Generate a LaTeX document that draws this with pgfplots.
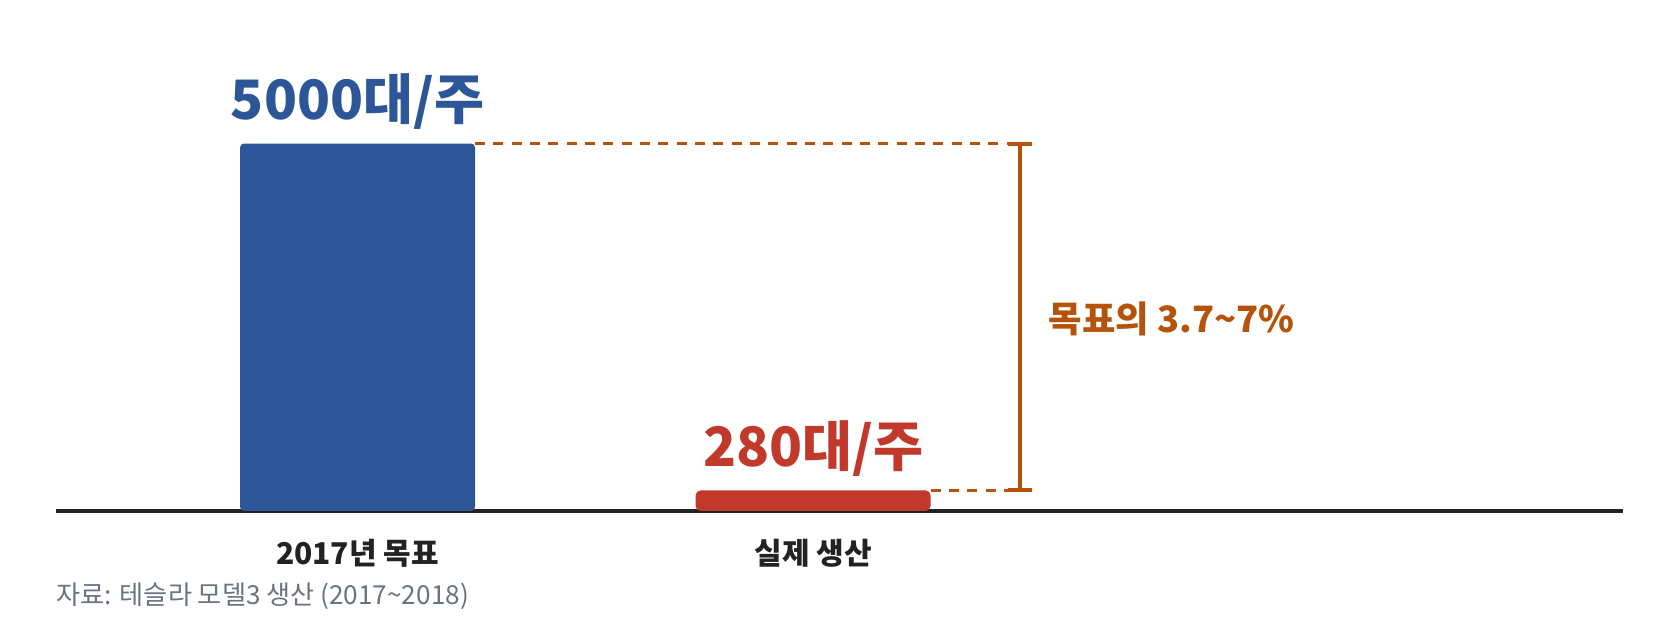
\documentclass[border=0pt]{standalone}
\usepackage{fontspec}
\setmainfont{Noto Sans CJK KR}
\usepackage{pgfplots}
\pgfplotsset{compat=1.18}

\definecolor{goalblue}{HTML}{2C5697}
\definecolor{actred}{HTML}{C0392B}
\definecolor{gaporange}{HTML}{B45309}
\definecolor{baseclr}{HTML}{222222}
\definecolor{srcgray}{HTML}{6B7280}

\begin{document}
\begin{tikzpicture}
\begin{axis}[
  scale only axis,
  width=470.1pt, height=110.25pt,
  xmin=-0.662, xmax=2.778,
  ymin=0, ymax=5000,
  clip=false,
  axis x line*=bottom,
  axis y line=none,
  x axis line style={draw=baseclr, line width=1pt},
  xtick={0,1},
  xticklabels={2017년 목표, 실제 생산},
  xticklabel style={font=\bfseries\fontsize{9}{11}\selectfont, text=baseclr,
    anchor=base, inner sep=0pt, yshift=-16.2pt},
  major tick length=0pt,
  ytick=\empty,
  ybar, bar width=70.5pt, bar shift=0pt,
  point meta=y,
  nodes near coords={\pgfmathprintnumber[1000 sep={},assume math mode=true]{\pgfplotspointmeta}대/주},
  nodes near coords style={font=\bfseries\fontsize{16.3}{19}\selectfont,
    anchor=base, inner sep=0pt, yshift=7.2pt},
]
% target vs actual weekly output
\addplot[fill=goalblue, draw=none, rounded corners=1.2pt,
  every node near coord/.append style={text=goalblue}] coordinates {(0,5000)};
\addplot[fill=actred, draw=none, rounded corners=1.5pt,
  every node near coord/.append style={text=actred}] coordinates {(1,280)};

% gap annotation
\draw[gaporange, line width=0.8pt, dash pattern=on 3pt off 2.5pt]
  (axis cs:0.258,5000) -- (axis cs:1.4545,5000);
\draw[gaporange, line width=0.8pt, dash pattern=on 3pt off 2.5pt]
  (axis cs:1.258,280) -- (axis cs:1.4545,280);
\draw[gaporange, line width=1.2pt] (axis cs:1.4545,280) -- (axis cs:1.4545,5000);
\draw[gaporange, line width=1.2pt]
  ([xshift=-3.5pt]axis cs:1.4545,5000) -- ([xshift=3.5pt]axis cs:1.4545,5000);
\draw[gaporange, line width=1.2pt]
  ([xshift=-3.5pt]axis cs:1.4545,280) -- ([xshift=3.5pt]axis cs:1.4545,280);
\node[anchor=base west, inner sep=0pt, text=gaporange,
  font=\bfseries\fontsize{10.9}{13}\selectfont]
  at (axis cs:1.516,2422) {목표의 3.7\textasciitilde 7\%};

% source line
\node[anchor=base west, inner sep=0pt, text=srcgray,
  font=\fontsize{7.85}{9}\selectfont]
  at ([yshift=-28pt]rel axis cs:0,0) {자료: 테슬라 모델3 생산 (2017\textasciitilde 2018)};

\path (rel axis cs:-0.03574,-0.3075) rectangle (rel axis cs:1.03638,1.3905);
\end{axis}
\end{tikzpicture}
\end{document}
